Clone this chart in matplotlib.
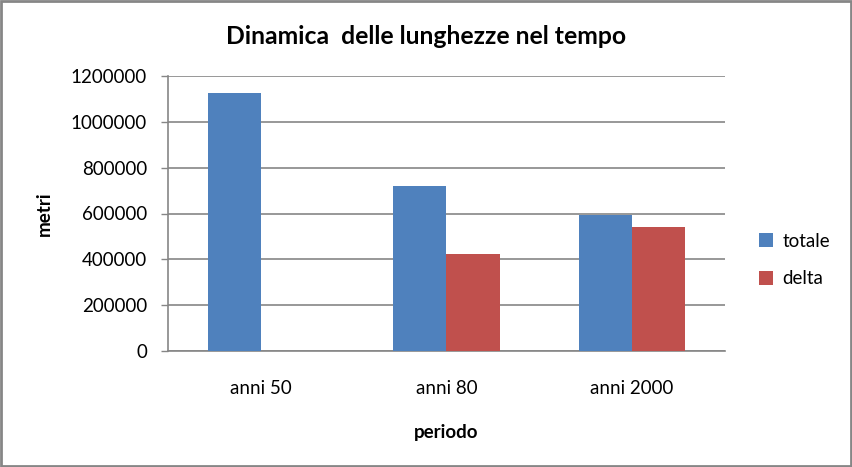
import numpy as np
import matplotlib
matplotlib.use('Agg')
import matplotlib.pyplot as plt
from matplotlib.patches import Rectangle

plt.rcParams['font.family'] = ['Lato', 'DejaVu Sans']

categorie = ['anni 50', 'anni 80', 'anni 2000']
totale = [1126000, 719000, 593000]
delta = [0, 423000, 540000]
yticks = [0, 200000, 400000, 600000, 800000, 1000000, 1200000]

fig = plt.figure(figsize=(8.53, 4.67), dpi=100)
ax = fig.add_axes([168 / 853, 1 - 351 / 467, (725 - 168) / 853, (351 - 76) / 467])

x = np.arange(len(categorie))
w = 1 / 3.5
ax.bar(x - w / 2, totale, width=w, color='#4f81bd', label='totale', zorder=3)
ax.bar(x + w / 2, delta, width=w, color='#c0504d', label='delta', zorder=3)

ax.set_xlim(-0.5, len(categorie) - 0.5)
ax.set_ylim(0, 1200000)
ax.set_yticks(yticks)
ax.set_yticklabels([str(v) for v in yticks], fontsize=13.5)
ax.set_xticks(x)
ax.set_xticklabels(categorie, fontsize=13.5)
ax.tick_params(axis='x', length=0, pad=21)
ax.tick_params(axis='y', length=5, width=1, color='#868686', pad=10, direction='out')
ax.yaxis.grid(True, color='#868686', linewidth=1.2, zorder=0)
for s in ['top', 'right']:
    ax.spines[s].set_visible(False)
ax.spines['left'].set_color('#868686')
ax.spines['bottom'].set_color('#868686')
ax.spines['left'].set_linewidth(1.2)
ax.spines['bottom'].set_linewidth(1.2)

ax.set_xlabel('periodo', fontsize=13.5, fontweight='bold', labelpad=19)
ax.set_ylabel('metri', fontsize=13.5, fontweight='bold', labelpad=13)
fig.text(426 / 853, 1 - 37 / 467, 'Dinamica  delle lunghezze nel tempo',
         ha='center', va='center', fontsize=17.8, fontweight='bold')

ax.legend(loc='center left', bbox_to_anchor=(742 / 853, 1 - 260 / 467),
          bbox_transform=fig.transFigure, frameon=False, fontsize=13.5,
          handlelength=0.75, handleheight=0.75, labelspacing=1.1, handletextpad=0.5)

fig.patches.append(Rectangle((0.001, 0.002), 0.997, 0.995, transform=fig.transFigure,
                             fill=False, edgecolor='#868686', linewidth=2))

fig.savefig('out.png', dpi=100)
